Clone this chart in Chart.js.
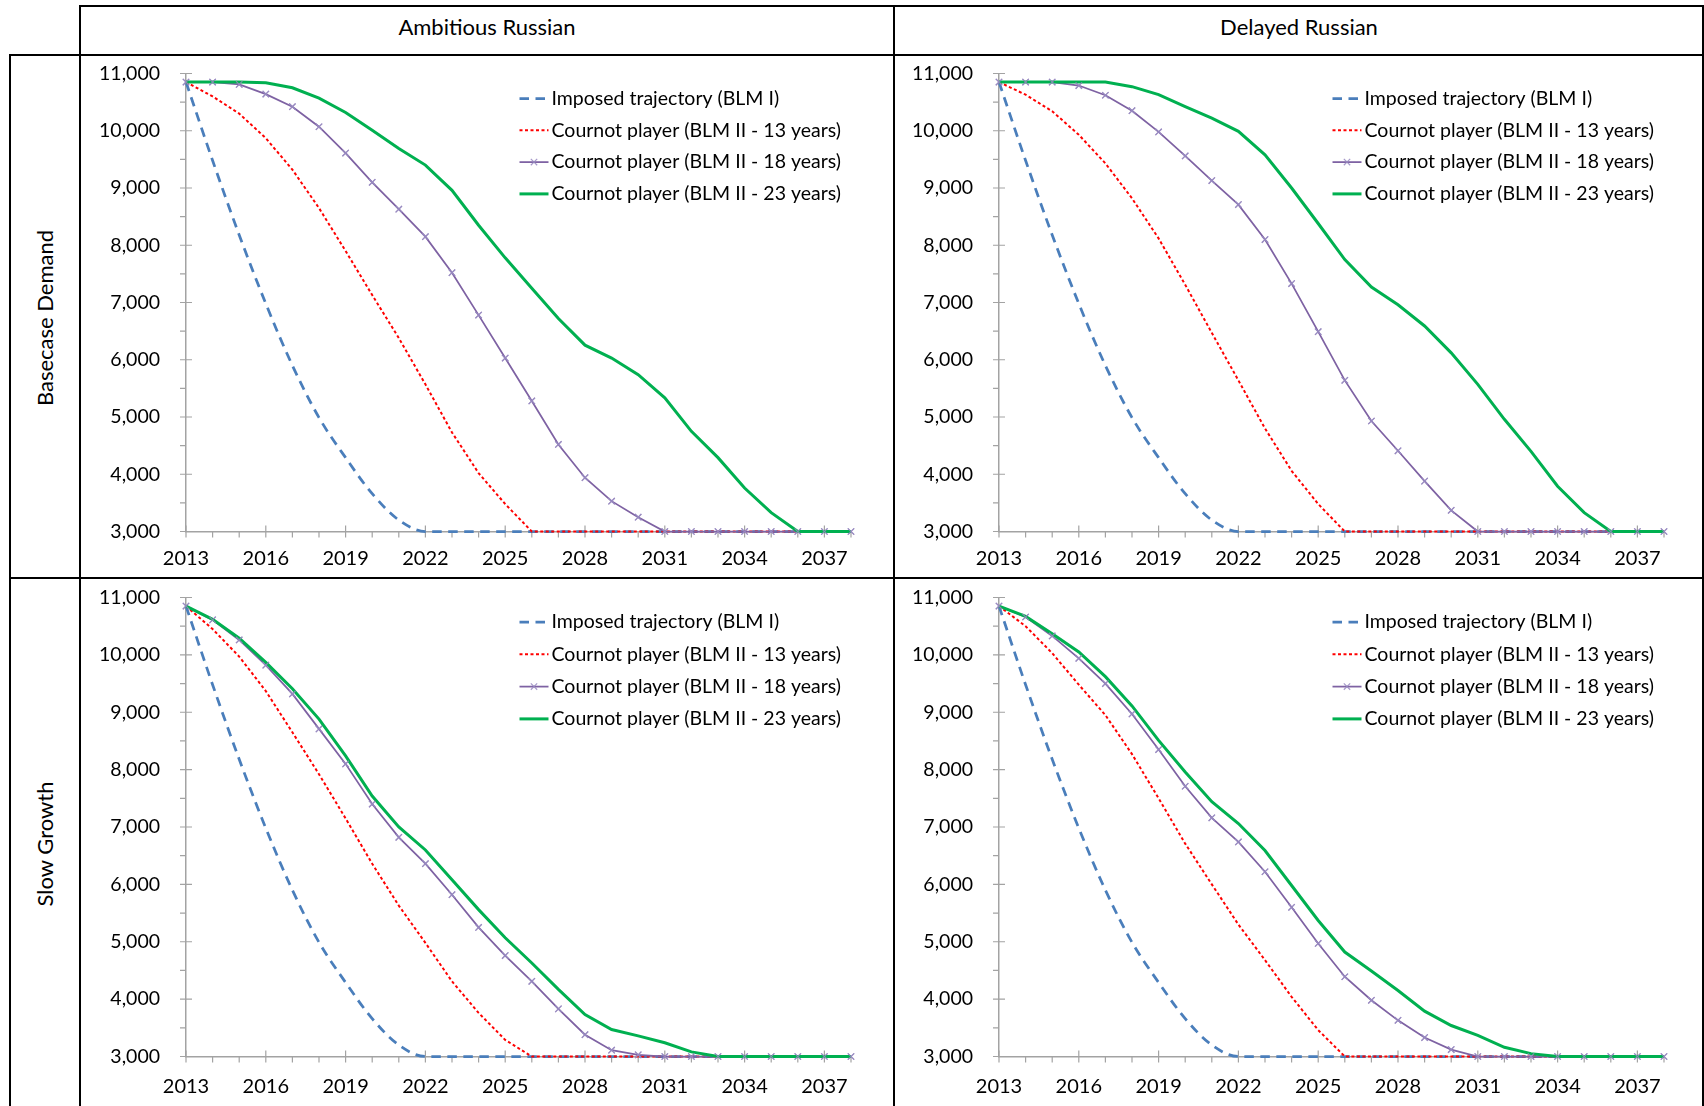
<!DOCTYPE html>
<html>
<head>
<meta charset="utf-8">
<title>BLM trajectories</title>
<script src="https://cdn.jsdelivr.net/npm/chart.js@4.4.1/dist/chart.umd.min.js"></script>
<style>
html,body{margin:0;padding:0;background:#fff;}
body{width:1704px;height:1106px;position:relative;overflow:hidden;font-family:Lato,"DejaVu Sans",sans-serif;}
.rule{position:absolute;background:#000;z-index:5;}
.head{position:absolute;font-size:22px;color:#000;white-space:nowrap;transform:translate(-50%,-50%);line-height:26px;}
.side{position:absolute;font-size:22px;color:#000;white-space:nowrap;transform:translate(-50%,-50%) rotate(-90deg);line-height:26px;}
canvas{position:absolute;}
</style>
</head>
<body>
<script>
// ---------------- data ----------------
const years = [2013,2014,2015,2016,2017,2018,2019,2020,2021,2022,2023,2024,2025,2026,2027,2028,2029,2030,2031,2032,2033,2034,2035,2036,2037,2038];
const xTickYears = [2013,2016,2019,2022,2025,2028,2031,2034,2037];
const yTickValues = [3000,4000,5000,6000,7000,8000,9000,10000,11000];
const yMinorTicks = [3500,4500,5500,6500,7500,8500,9500,10500];
const columnTitles = ['Ambitious Russian','Delayed Russian'];
const rowTitles = ['Basecase Demand','Slow Growth'];
const seriesNames = ['Imposed trajectory (BLM I)','Cournot player (BLM II - 13 years)','Cournot player (BLM II - 18 years)','Cournot player (BLM II - 23 years)'];

const imposed = [10850,9480,8180,6980,5900,4990,4290,3660,3200,3000,3000,3000,3000,3000,3000,3000,3000,3000,3000,3000,3000,3000,3000,3000,3000,3000];

const ambBaseRed    = [10850,10600,10300,9870,9320,8650,7900,7130,6380,5570,4730,4020,3480,3000,3000,3000,3000,3000,3000,3000,3000,3000,3000,3000,3000,3000];
const ambBasePurple = [10850,10850,10810,10640,10420,10070,9610,9100,8630,8150,7520,6780,6030,5280,4520,3940,3530,3250,3000,3000,3000,3000,3000,3000,3000,3000];
const ambBaseGreen  = [10850,10850,10850,10840,10750,10570,10320,10010,9690,9400,8960,8350,7780,7250,6720,6255,6030,5740,5335,4750,4290,3760,3330,3000,3000,3000];

const delBaseRed    = [10850,10630,10340,9930,9430,8820,8120,7310,6470,5640,4800,4060,3480,3000,3000,3000,3000,3000,3000,3000,3000,3000,3000,3000,3000,3000];
const delBasePurple = [10850,10850,10850,10790,10620,10350,9980,9560,9130,8710,8100,7330,6490,5640,4930,4410,3880,3370,3000,3000,3000,3000,3000,3000,3000,3000];
const delBaseGreen  = [10850,10850,10850,10850,10850,10770,10630,10420,10220,9990,9580,9000,8380,7750,7270,6960,6590,6120,5570,4960,4400,3790,3330,3000,3000,3000];

const ambSlowRed    = [10850,10450,9970,9370,8650,7920,7150,6360,5630,4980,4310,3760,3290,3000,3000,3000,3000,3000,3000,3000,3000,3000,3000,3000,3000,3000];
const ambSlowPurple = [10850,10610,10260,9820,9320,8710,8100,7400,6820,6360,5820,5250,4760,4310,3830,3380,3110,3030,3000,3000,3000,3000,3000,3000,3000,3000];
const ambSlowGreen  = [10850,10620,10290,9870,9410,8880,8240,7540,7000,6600,6080,5560,5070,4630,4170,3730,3470,3360,3240,3080,3000,3000,3000,3000,3000,3000];

const delSlowRed    = [10850,10500,10030,9480,8950,8270,7500,6710,6000,5300,4680,4040,3460,3000,3000,3000,3000,3000,3000,3000,3000,3000,3000,3000,3000,3000];
const delSlowPurple = [10850,10660,10330,9940,9500,8970,8350,7710,7160,6740,6220,5600,4970,4390,3980,3630,3330,3120,3000,3000,3000,3000,3000,3000,3000,3000];
const delSlowGreen  = [10850,10670,10370,10050,9620,9110,8510,7960,7440,7060,6590,5980,5370,4820,4490,4150,3790,3540,3370,3160,3050,3000,3000,3000,3000,3000];

// ---------------- layout & style ----------------
const FONT = 'Lato';
const AXIS = '#A3A3A3';
const CANVAS_LEFT = [82, 896], CANVAS_W = 806;
const CANVAS_TOP = [57, 580], CANVAS_H = [520, 526];
const PLOT_L = [186, 999], PLOT_R = [851, 1664];
const PLOT_T = [73.5, 597.5], PLOT_B = [531.5, 1056.5];
const Y_AXIS_W = 100, X_AXIS_H = 40;
const X_LABEL_PAD = [15, 18];
const LEG_X = 333.5, LEG_LINE = 29, LEG_TEXT_GAP = 3, LEG_TOP = [25, 24.5], LEG_STEP = [31.8, 32.3];

const styles = [
  {color:'#4A7EBB', width:2.75, dash:[9.5,6.5], marker:false, mono:true},
  {color:'#FF0000', width:2, dash:[3,2.5], marker:false, mono:false},
  {color:'#7E62A3', width:1.75, dash:[], marker:true, mono:false},
  {color:'#00B050', width:3, dash:[], marker:false, mono:false}
];
const MARKER = 'rgba(150,136,192,0.85)';

function rule(l,t,w,h){const d=document.createElement('div');d.className='rule';d.style.left=l+'px';d.style.top=t+'px';d.style.width=w+'px';d.style.height=h+'px';document.body.appendChild(d);}
rule(79,5,1625,2); rule(9,54,1695,2); rule(9,577,1695,2);
rule(9,54,2,1052); rule(79,5,2,1101); rule(893,5,2,1101); rule(1702,5,2,1101);

function label(cls, text, x, y){const d=document.createElement('div');d.className=cls;d.textContent=text;d.style.left=x+'px';d.style.top=y+'px';document.body.appendChild(d);}
label('head', columnTitles[0], 487, 26.5);
label('head', columnTitles[1], 1299, 26.5);
label('side', rowTitles[0], 44.5, 318);
label('side', rowTitles[1], 44.5, 844);

const excelTicks = {
  id:'excelTicks',
  beforeDatasetsDraw(chart){
    const {ctx, chartArea:a, scales:{x,y}} = chart;
    ctx.save();
    ctx.strokeStyle = AXIS; ctx.lineWidth = 1.2;
    ctx.beginPath();
    yTickValues.forEach(v=>{const p=y.getPixelForValue(v); ctx.moveTo(a.left-6,p); ctx.lineTo(a.left+6,p);});
    yMinorTicks.forEach(v=>{const p=y.getPixelForValue(v); ctx.moveTo(a.left-6,p); ctx.lineTo(a.left,p);});
    years.forEach(v=>{const p=x.getPixelForValue(v);
      if (xTickYears.includes(v)) {ctx.moveTo(p,a.bottom-6); ctx.lineTo(p,a.bottom+6);}
      else {ctx.moveTo(p,a.bottom); ctx.lineTo(p,a.bottom+6);} });
    ctx.stroke();
    ctx.restore();
  },
  afterDatasetsDraw(chart){
    chart.data.datasets.forEach((ds,i)=>{
      if (styles[i].marker) chart.getDatasetMeta(i).data.forEach(p=>p.draw(chart.ctx));
    });
  }
};

function makeLegend(r){
  return {
    id:'insideLegend',
    afterDraw(chart){
      const {ctx, chartArea:a} = chart;
      chart.data.datasets.forEach((ds,i)=>{
        const st = styles[i];
        const yy = a.top + LEG_TOP[r] + i*LEG_STEP[r];
        const x0 = a.left + LEG_X;
        ctx.save();
        ctx.strokeStyle = st.color; ctx.lineWidth = st.width; ctx.setLineDash(st.dash);
        ctx.beginPath(); ctx.moveTo(x0,yy); ctx.lineTo(x0+LEG_LINE,yy); ctx.stroke();
        ctx.setLineDash([]);
        if (st.marker) {
          ctx.strokeStyle = MARKER; ctx.lineWidth = 1.2;
          Chart.helpers.drawPoint(ctx, {pointStyle:'crossRot', radius:4.5, borderWidth:1.2}, x0+LEG_LINE/2, yy);
        }
        ctx.fillStyle = '#000'; ctx.font = '19.5px ' + FONT; ctx.textBaseline = 'middle'; ctx.textAlign = 'left';
        ctx.fillText(ds.label, x0 + LEG_LINE + LEG_TEXT_GAP, yy);
        ctx.restore();
      });
    }
  };
}

function makeChart(r, c, seriesSet){
  const L = CANVAS_LEFT[c], T = CANVAS_TOP[r], W = CANVAS_W, H = CANVAS_H[r];
  const cv = document.createElement('canvas');
  cv.width = W; cv.height = H;
  cv.style.left = L+'px'; cv.style.top = T+'px'; cv.style.width = W+'px'; cv.style.height = H+'px';
  document.body.appendChild(cv);
  const padding = {left: PLOT_L[c]-L-Y_AXIS_W, right: L+W-PLOT_R[c], top: PLOT_T[r]-T, bottom: T+H-PLOT_B[r]-X_AXIS_H};
  const datasets = seriesSet.map((vals,i)=>{
    const st = styles[i];
    return {
      label: seriesNames[i],
      data: vals.map((v,k)=>({x:years[k], y:v})),
      borderColor: st.color, borderWidth: st.width, borderDash: st.dash,
      pointRadius: st.marker ? 4.5 : 0, pointHoverRadius: 0, pointStyle: 'crossRot',
      pointBorderColor: MARKER, pointBackgroundColor: 'transparent', pointBorderWidth: 1.2,
      fill: false, tension: 0, cubicInterpolationMode: st.mono ? 'monotone' : 'default',
      clip: false, order: 4 - i
    };
  });
  return new Chart(cv, {
    type:'line',
    data:{datasets},
    options:{
      responsive:false, animation:false, devicePixelRatio:1,
      layout:{padding},
      plugins:{legend:{display:false}, tooltip:{enabled:false}},
      events:[],
      scales:{
        x:{type:'linear', min:years[0], max:years[years.length-1],
          afterBuildTicks:s=>{s.ticks = xTickYears.map(v=>({value:v}));},
          afterFit:s=>{s.height = X_AXIS_H;},
          grid:{display:false, drawTicks:false},
          border:{display:true, color:AXIS, width:1.5},
          ticks:{font:{family:FONT,size:20}, color:'#000', padding:X_LABEL_PAD[r], maxRotation:0, autoSkip:false, callback:v=>String(v)}
        },
        y:{type:'linear', min:yTickValues[0], max:yTickValues[yTickValues.length-1],
          afterBuildTicks:s=>{s.ticks = yTickValues.map(v=>({value:v}));},
          afterFit:s=>{s.width = Y_AXIS_W;},
          grid:{display:true, drawOnChartArea:false, drawTicks:true, tickLength:24, color:'rgba(0,0,0,0)'},
          border:{display:true, color:AXIS, width:1.5},
          ticks:{font:{family:FONT,size:19.5}, color:'#000', padding:2, autoSkip:false, callback:v=>Number(v).toLocaleString('en-US')}
        }
      }
    },
    plugins:[excelTicks, makeLegend(r)]
  });
}

function init(){
  makeChart(0,0,[imposed, ambBaseRed, ambBasePurple, ambBaseGreen]);
  makeChart(0,1,[imposed, delBaseRed, delBasePurple, delBaseGreen]);
  makeChart(1,0,[imposed, ambSlowRed, ambSlowPurple, ambSlowGreen]);
  makeChart(1,1,[imposed, delSlowRed, delSlowPurple, delSlowGreen]);
}
let started = false;
function start(){ if (started) return; started = true; init(); }
if (document.fonts && document.fonts.load) {
  document.fonts.load('20px Lato').then(start, start);
  setTimeout(start, 1500);
} else start();
</script>
</body>
</html>
